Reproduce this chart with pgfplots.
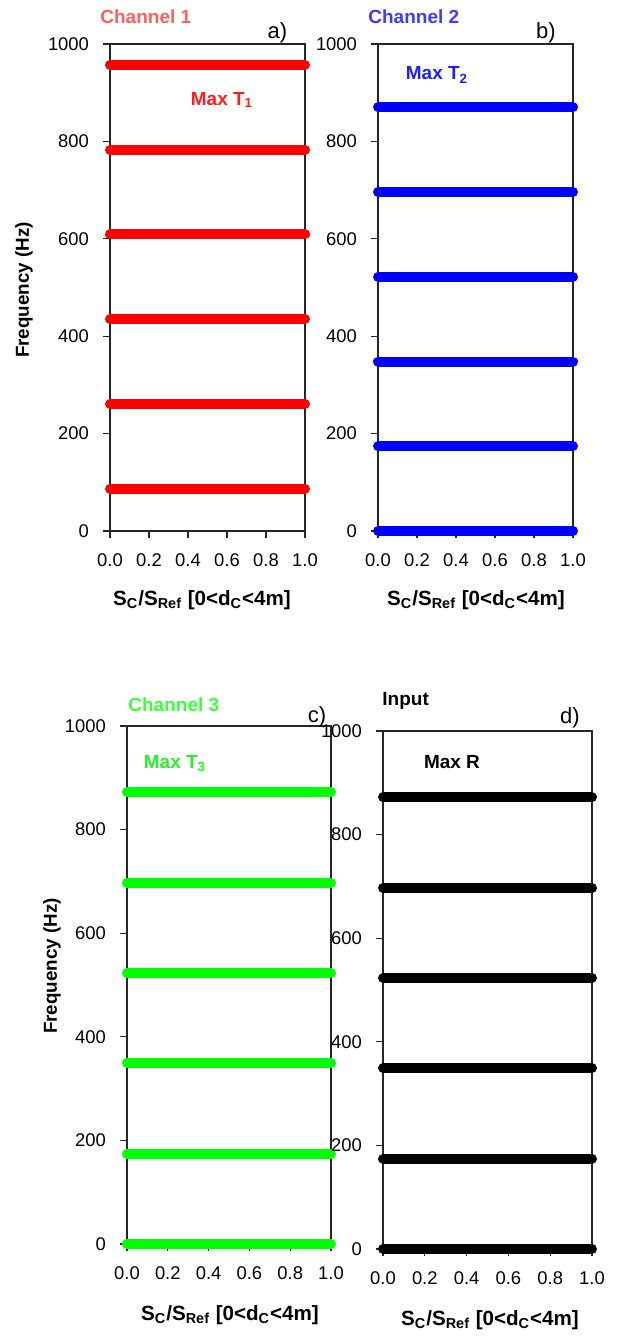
\documentclass[border=0pt]{standalone}
\usepackage{fontspec}
\setmainfont{Liberation Sans}
\usepackage{pgfplots}
\pgfplotsset{compat=1.18}
\definecolor{cred}{RGB}{255,0,0}
\definecolor{cblue}{RGB}{0,0,255}
\definecolor{cgreen}{RGB}{0,255,0}
\definecolor{tred}{RGB}{255,95,95}
\definecolor{tblue}{RGB}{60,60,255}
\definecolor{tgreen}{RGB}{60,255,60}
\definecolor{mred}{RGB}{255,30,30}
\definecolor{mblue}{RGB}{30,30,255}
\definecolor{mgreen}{RGB}{40,240,40}
\pgfplotsset{panel/.style={
  scale only axis, anchor=south west,
  xmin=0, xmax=1, ymin=0, ymax=1000,
  xtick={0,0.2,0.4,0.6,0.8,1}, ytick={0,200,400,600,800,1000},
  /pgf/number format/assume math mode=true,
  /pgf/number format/1000 sep={},
  xticklabel style={/pgf/number format/fixed,/pgf/number format/fixed zerofill,/pgf/number format/precision=1, yshift=-4.5pt},
  yticklabel style={xshift=-3.5pt},
  tick align=outside, xtick pos=bottom, ytick pos=left,
  major tick length=3.5pt,
  axis line style={line width=0.65pt, black!85},
  every tick/.style={black!85, line width=0.65pt},
  ticklabel style={font=\fontsize{9.2}{11}\selectfont},
  clip=false,
}}
\tikzset{ser/.style={line width=5pt, line cap=round},
lab/.style={inner sep=0pt, font=\bfseries\fontsize{9.5}{11}\selectfont}}
\begin{document}
\begin{tikzpicture}
% panel a
\begin{axis}[panel, at={(55pt,402.5pt)}, width=97.5pt, height=243.5pt]
\addplot[ser, cred] coordinates {(0,87)(0.5,87)(1,87)};
\addplot[ser, cred] coordinates {(0,261)(0.5,261)(1,261)};
\addplot[ser, cred] coordinates {(0,435)(0.5,435)(1,435)};
\addplot[ser, cred] coordinates {(0,609)(0.5,609)(1,609)};
\addplot[ser, cred] coordinates {(0,783)(0.5,783)(1,783)};
\addplot[ser, cred] coordinates {(0,957)(0.5,957)(1,957)};
\end{axis}
% panel b
\begin{axis}[panel, at={(189pt,402.5pt)}, width=97.5pt, height=243.5pt]
\addplot[ser, cblue] coordinates {(0,0)(0.5,0)(1,0)};
\addplot[ser, cblue] coordinates {(0,174)(0.5,174)(1,174)};
\addplot[ser, cblue] coordinates {(0,348)(0.5,348)(1,348)};
\addplot[ser, cblue] coordinates {(0,522)(0.5,522)(1,522)};
\addplot[ser, cblue] coordinates {(0,696)(0.5,696)(1,696)};
\addplot[ser, cblue] coordinates {(0,870)(0.5,870)(1,870)};
\end{axis}
% panel c
\begin{axis}[panel, at={(63.5pt,46pt)}, width=102pt, height=259pt]
\addplot[ser, cgreen] coordinates {(0,0)(0.5,0)(1,0)};
\addplot[ser, cgreen] coordinates {(0,174)(0.5,174)(1,174)};
\addplot[ser, cgreen] coordinates {(0,349)(0.5,349)(1,349)};
\addplot[ser, cgreen] coordinates {(0,523)(0.5,523)(1,523)};
\addplot[ser, cgreen] coordinates {(0,697)(0.5,697)(1,697)};
\addplot[ser, cgreen] coordinates {(0,872)(0.5,872)(1,872)};
\end{axis}
% panel d
\begin{axis}[panel, at={(191.5pt,43.5pt)}, width=104.5pt, height=259pt]
\addplot[ser, black] coordinates {(0,0)(0.5,0)(1,0)};
\addplot[ser, black] coordinates {(0,174)(0.5,174)(1,174)};
\addplot[ser, black] coordinates {(0,349)(0.5,349)(1,349)};
\addplot[ser, black] coordinates {(0,523)(0.5,523)(1,523)};
\addplot[ser, black] coordinates {(0,697)(0.5,697)(1,697)};
\addplot[ser, black] coordinates {(0,872)(0.5,872)(1,872)};
\end{axis}
% titles
\node[lab, anchor=west, text=tred] at (50pt,659.5pt) {Channel 1};
\node[lab, anchor=west, text=tblue] at (184pt,659.5pt) {Channel 2};
\node[lab, anchor=west, text=tgreen] at (64pt,315.5pt) {Channel 3};
\node[lab, anchor=west, text=black] at (191pt,317.5pt) {Input};
% panel letters
\node[inner sep=0pt, font=\fontsize{11}{12}\selectfont] at (138.75pt,651.5pt) {a)};
\node[inner sep=0pt, font=\fontsize{11}{12}\selectfont] at (273pt,651.5pt) {b)};
\node[inner sep=0pt, font=\fontsize{11}{12}\selectfont] at (158.5pt,309.5pt) {c)};
\node[inner sep=0pt, font=\fontsize{11}{12}\selectfont] at (285pt,309pt) {d)};
% annotations
\node[lab, text=mred] at (111pt,618pt) {Max T\textsubscript{1}};
\node[lab, text=mblue] at (218.5pt,630.5pt) {Max T\textsubscript{2}};
\node[lab, text=mgreen] at (87.5pt,286pt) {Max T\textsubscript{3}};
\node[lab, text=black] at (226pt,287pt) {Max R};
% x labels
\node[lab, font=\bfseries\fontsize{10.3}{12}\selectfont] at (101pt,368pt) {S\textsubscript{C}/S\textsubscript{Ref} [0<d\textsubscript{C}<4m]};
\node[lab, font=\bfseries\fontsize{10.3}{12}\selectfont] at (238pt,368pt) {S\textsubscript{C}/S\textsubscript{Ref} [0<d\textsubscript{C}<4m]};
\node[lab, font=\bfseries\fontsize{10.3}{12}\selectfont] at (115pt,10.5pt) {S\textsubscript{C}/S\textsubscript{Ref} [0<d\textsubscript{C}<4m]};
\node[lab, font=\bfseries\fontsize{10.3}{12}\selectfont] at (245pt,8pt) {S\textsubscript{C}/S\textsubscript{Ref} [0<d\textsubscript{C}<4m]};
% y labels
\node[lab, rotate=90, font=\bfseries\fontsize{9.4}{11}\selectfont] at (12pt,523pt) {Frequency (Hz)};
\node[lab, rotate=90, font=\bfseries\fontsize{9.4}{11}\selectfont] at (26pt,185pt) {Frequency (Hz)};
\pgfresetboundingbox
\path (0,0) rectangle (310pt,668pt);
\end{tikzpicture}
\end{document}
